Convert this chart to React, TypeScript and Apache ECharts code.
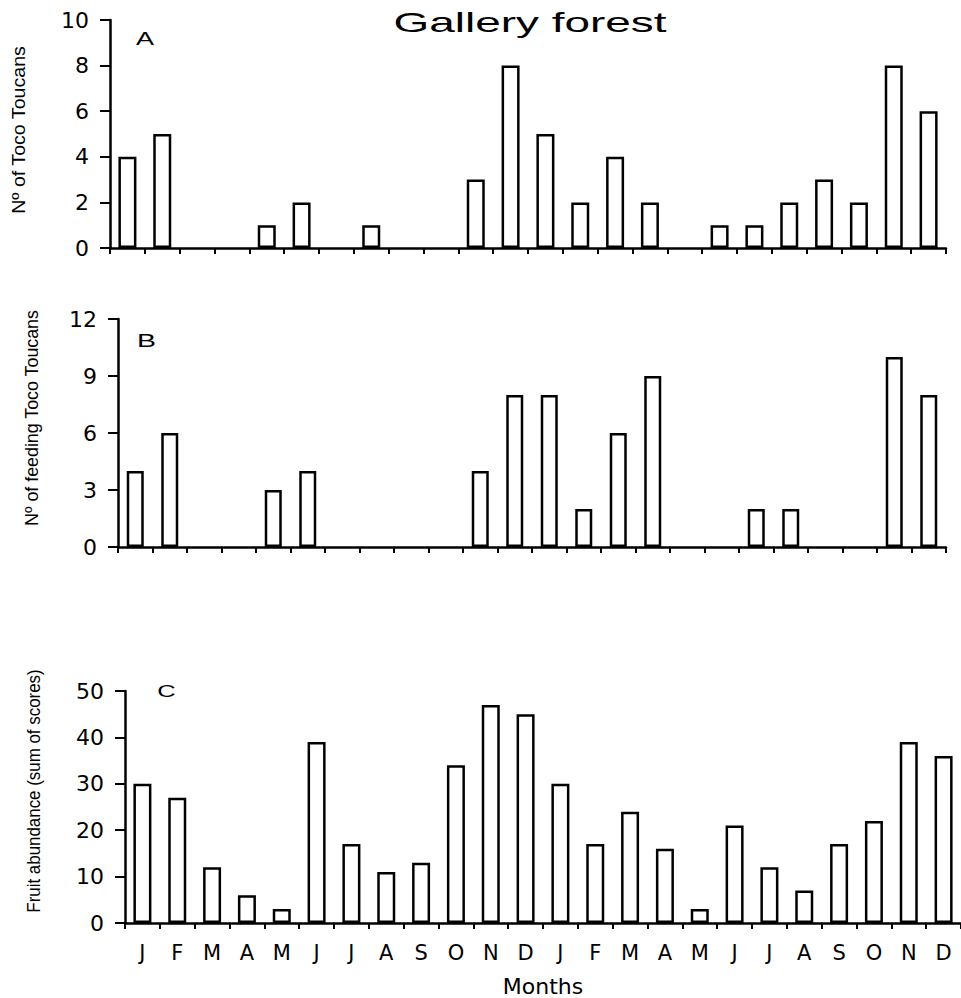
import React, { useEffect, useRef } from 'react';
import * as echarts from 'echarts';

const months = ['J', 'F', 'M', 'A', 'M', 'J', 'J', 'A', 'S', 'O', 'N', 'D', 'J', 'F', 'M', 'A', 'M', 'J', 'J', 'A', 'S', 'O', 'N', 'D'];
const tocoCounts = [4, 5, 0, 0, 1, 2, 0, 1, 0, 0, 3, 8, 5, 2, 4, 2, 0, 1, 1, 2, 3, 2, 8, 6];
const feedingCounts = [4, 6, 0, 0, 3, 4, 0, 0, 0, 0, 4, 8, 8, 2, 6, 9, 0, 0, 2, 2, 0, 0, 10, 8];
const fruitScores = [30, 27, 12, 6, 3, 39, 17, 11, 13, 34, 47, 45, 30, 17, 24, 16, 3, 21, 12, 7, 17, 22, 39, 36];

const titleText = 'Gallery forest';
const panelLetters = ['A', 'B', 'C'];
const yNames = ['Nº of Toco Toucans', 'Nº of feeding Toco Toucans', 'Fruit abundance (sum of scores)'];
const yMax = [10, 12, 50];
const yInterval = [2, 3, 10];
const xName = 'Months';

export default function App() {
  const ref = useRef<HTMLDivElement>(null);

  useEffect(() => {
    if (!ref.current) return;
    const chart = echarts.init(ref.current, null, { renderer: 'svg' });

    const grids = [
      { left: 110, top: 20, width: 836, height: 228 },
      { left: 118, top: 319, width: 828, height: 228 },
      { left: 125, top: 691, width: 837, height: 232 },
    ];
    const seriesData = [tocoCounts, feedingCounts, fruitScores];
    const barWidths = [18, 17, 18];
    const namePos = [
      { x: 18.5, y: 130, scale: 1.09 },
      { x: 32, y: 418, scale: 0.99 },
      { x: 33.5, y: 791, scale: 0.94 },
    ];
    const letterPos = [
      { x: 145, y: 38.5, size: 18 },
      { x: 146.5, y: 340, size: 19 },
      { x: 166.5, y: 691, size: 17 },
    ];

    const xAxes = grids.map((_, i) => ({
      type: 'category',
      gridIndex: i,
      data: months,
      boundaryGap: true,
      axisLine: { show: true, lineStyle: { color: '#000', width: 2.5 } },
      axisTick: { show: true, length: 6, lineStyle: { color: '#000', width: 2 } },
      axisLabel: {
        show: i === 2,
        interval: 0,
        color: '#000',
        fontFamily: 'DejaVu Sans',
        fontSize: 21,
        margin: 19,
      },
      name: i === 2 ? xName : '',
      nameLocation: 'middle',
      nameGap: 52,
      nameTextStyle: { color: '#000', fontFamily: 'DejaVu Sans', fontSize: 22 },
      splitLine: { show: false },
    }));

    const yAxes = grids.map((_, i) => ({
      type: 'value',
      gridIndex: i,
      min: 0,
      max: yMax[i],
      interval: yInterval[i],
      axisLine: { show: true, lineStyle: { color: '#000', width: 2.5 } },
      axisTick: { show: true, length: 10, lineStyle: { color: '#000', width: 2 } },
      axisLabel: { color: '#000', fontFamily: 'DejaVu Sans', fontSize: 22, margin: 21 },
      splitLine: { show: false },
    }));

    const series = seriesData.map((d, i) => ({
      type: 'bar',
      xAxisIndex: i,
      yAxisIndex: i,
      data: d.map((v) => (v === 0 ? '-' : v)),
      barWidth: barWidths[i],
      itemStyle: { color: '#fff', borderColor: '#000', borderWidth: 2.5 },
      emphasis: { disabled: true },
    }));

    const graphicEls: any[] = [
      {
        type: 'text',
        x: 530,
        y: 22,
        scaleX: 1.64,
        style: {
          text: titleText,
          fontFamily: 'Liberation Sans',
          fontSize: 28,
          fill: '#000',
          textAlign: 'center',
          textVerticalAlign: 'middle',
        },
      },
      ...panelLetters.map((t, i) => ({
        type: 'text',
        x: letterPos[i].x,
        y: letterPos[i].y,
        scaleX: 1.5,
        style: {
          text: t,
          fontFamily: 'Liberation Sans',
          fontSize: letterPos[i].size,
          fill: '#000',
          textAlign: 'center',
          textVerticalAlign: 'middle',
        },
      })),
      ...yNames.map((t, i) => ({
        type: 'text',
        x: namePos[i].x,
        y: namePos[i].y,
        rotation: Math.PI / 2,
        scaleX: namePos[i].scale,
        style: {
          text: t,
          fontFamily: 'Liberation Sans',
          fontSize: 18,
          fill: '#000',
          textAlign: 'center',
          textVerticalAlign: 'middle',
        },
      })),
    ];

    chart.setOption({
      animation: false,
      backgroundColor: '#fff',
      grid: grids.map((g) => ({ ...g, containLabel: false })),
      xAxis: xAxes,
      yAxis: yAxes,
      series,
      graphic: graphicEls,
    } as any);

    return () => chart.dispose();
  }, []);

  return (
    <div
      ref={ref}
      style={{ position: 'fixed', left: 0, top: 0, width: 961, height: 998, background: '#fff' }}
    />
  );
}
